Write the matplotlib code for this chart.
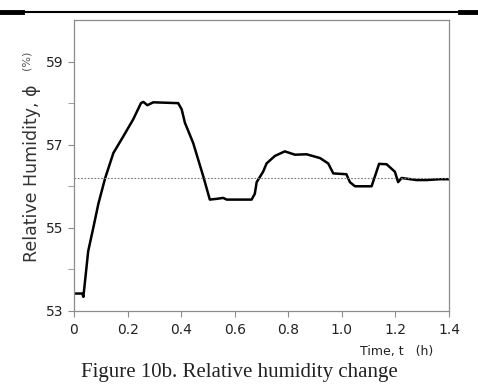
import matplotlib
matplotlib.use("Agg")
import matplotlib.pyplot as plt
from matplotlib.lines import Line2D

# Measured relative humidity over time
time_h = [0.0, 0.031, 0.035, 0.053, 0.072, 0.091, 0.116, 0.147, 0.184, 0.221,
          0.250, 0.259, 0.274, 0.296, 0.389, 0.402, 0.414, 0.445, 0.483, 0.507,
          0.535, 0.557, 0.570, 0.619, 0.663, 0.675, 0.682, 0.706, 0.719, 0.750,
          0.787, 0.825, 0.868, 0.918, 0.949, 0.968, 1.017, 1.030, 1.049, 1.111,
          1.123, 1.139, 1.167, 1.198, 1.210, 1.223, 1.278, 1.316, 1.366, 1.397]
humidity = [53.42, 53.42, 53.34, 54.44, 55.00, 55.58, 56.19, 56.80, 57.20, 57.61,
            58.00, 58.03, 57.95, 58.02, 58.00, 57.85, 57.53, 57.04, 56.23, 55.68,
            55.70, 55.72, 55.68, 55.68, 55.68, 55.82, 56.10, 56.35, 56.55, 56.73,
            56.84, 56.76, 56.77, 56.68, 56.55, 56.31, 56.29, 56.10, 56.00, 56.00,
            56.23, 56.54, 56.53, 56.35, 56.10, 56.20, 56.15, 56.15, 56.17, 56.17]
mean_humidity = 56.2

x_ticks = [0, 0.2, 0.4, 0.6, 0.8, 1.0, 1.2, 1.4]
x_ticklabels = ["0", "0.2", "0.4", "0.6", "0.8", "1.0", "1.2", "1.4"]
y_major = [53, 55, 57, 59]
y_minor = [54, 56, 58]

fig = plt.figure(figsize=(4.78, 3.87), dpi=100)
ax = fig.add_axes([74 / 478, 1 - 311 / 387, (449 - 74) / 478, (311 - 20) / 387])

ax.plot(time_h, humidity, color="black", linewidth=1.8, solid_joinstyle="round")
ax.axhline(mean_humidity, color="#777777", linestyle=(0, (1.5, 1.5)), linewidth=0.8)

ax.set_xlim(0, 1.4)
ax.set_ylim(53, 60)
ax.set_xticks(x_ticks)
ax.set_xticklabels(x_ticklabels)
ax.set_yticks(y_major)
ax.set_yticks(y_minor, minor=True)

for s in ax.spines.values():
    s.set_color("#8c8c8c")
    s.set_linewidth(0.9)
ax.tick_params(axis="both", which="both", direction="out", color="#8c8c8c",
               labelsize=10, labelcolor="#222222")
ax.tick_params(axis="both", which="major", length=4)
ax.tick_params(axis="y", which="minor", length=4)
ax.tick_params(axis="x", pad=5)

# axis labels placed as free text
fig.text(32 / 478, 1 - 173 / 387, "Relative Humidity, \u03d5", rotation=90,
         ha="center", va="center", fontsize=12.5, color="#333333")
fig.text(27 / 478, 1 - 60 / 387, "(%)", rotation=90,
         ha="center", va="center", fontsize=8, color="#555555")
fig.text(433 / 478, 1 - 351 / 387, "Time, t   (h)", ha="right", va="center",
         fontsize=9, color="#222222")

fig.text(0.5, 1 - 373 / 387, "Figure 10b. Relative humidity change",
         ha="center", va="center", fontsize=15, family="Liberation Serif",
         color="#222222")

# rule across the top of the page
fig.add_artist(Line2D([0, 1], [1 - 12 / 387] * 2, transform=fig.transFigure,
                      color="black", linewidth=1.5))
fig.add_artist(Line2D([0, 22 / 478], [1 - 12 / 387] * 2, transform=fig.transFigure,
                      color="black", linewidth=3.5))
fig.add_artist(Line2D([460 / 478, 1], [1 - 12 / 387] * 2, transform=fig.transFigure,
                      color="black", linewidth=3.5))

fig.savefig("out.png", dpi=100)
